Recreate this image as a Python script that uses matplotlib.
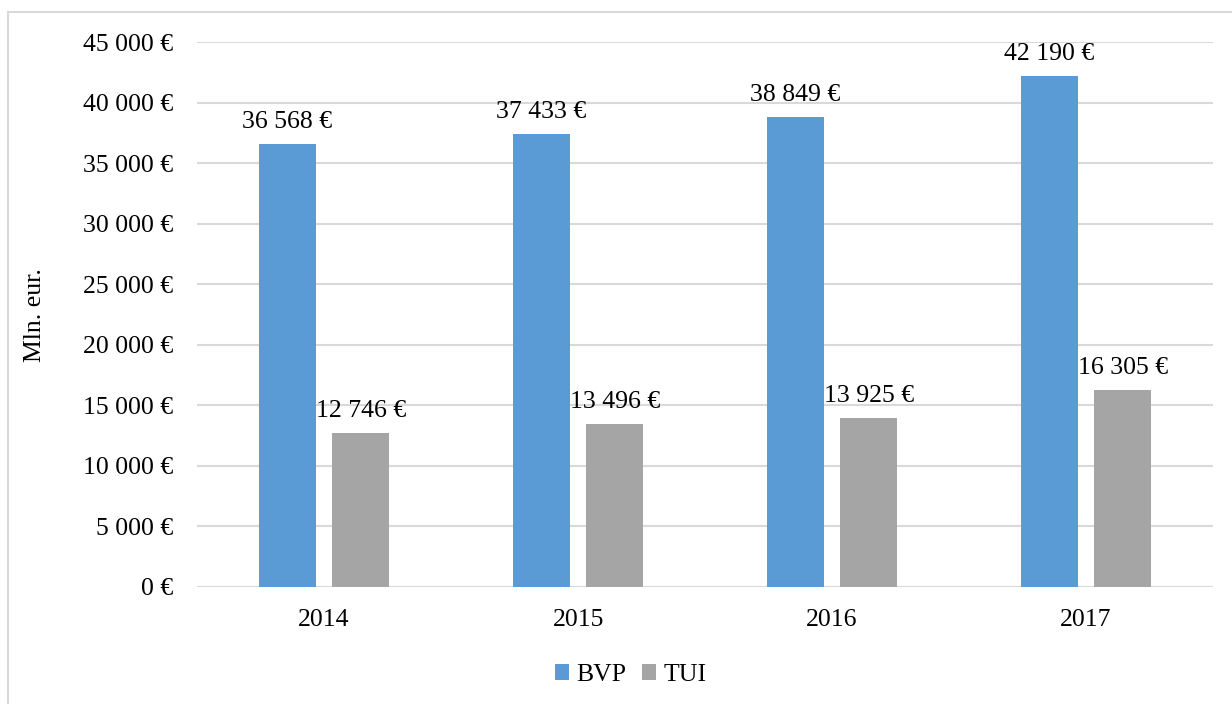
import matplotlib
matplotlib.use("Agg")
import matplotlib.pyplot as plt
import numpy as np
from matplotlib.patches import Rectangle
from matplotlib.ticker import FuncFormatter

years = ["2014", "2015", "2016", "2017"]
bvp = [36568, 37433, 38849, 42190]
tui = [12746, 13496, 13925, 16305]
series_names = ["BVP", "TUI"]
colors = ["#5B9BD5", "#A5A5A5"]

plt.rcParams['font.family'] = ['Liberation Serif', 'DejaVu Serif']
FS = 18.5

fig = plt.figure(figsize=(12.32, 7.04), dpi=100)
ax = fig.add_axes([0.160, 0.1662, 0.8246, 0.7741])

# figure border
fig.patches.append(Rectangle((8/1232, -0.05), 1.2, 1 - 12/704 + 0.05,
                             transform=fig.transFigure, fill=False,
                             edgecolor="#D9D9D9", linewidth=1.5))

def fmt(v):
    return f"{int(v):,}".replace(",", " ") + " €"

x = np.arange(len(years))
w = 0.224
off = 0.144
b1 = ax.bar(x - off, bvp, w, color=colors[0], label=series_names[0], zorder=3)
b2 = ax.bar(x + off, tui, w, color=colors[1], label=series_names[1], zorder=3)

for bars, vals in ((b1, bvp), (b2, tui)):
    for r, v in zip(bars, vals):
        ax.annotate(fmt(v), (r.get_x() + r.get_width()/2, v),
                    xytext=(0, 11.5), textcoords="offset points",
                    ha="center", va="baseline", fontsize=FS, color="#000000", zorder=4)

ax.set_xlim(-0.5, len(years) - 0.5)
ax.set_ylim(0, 45000)
ax.set_yticks(np.arange(0, 45001, 5000))
ax.yaxis.set_major_formatter(FuncFormatter(lambda v, p: fmt(v)))
ax.set_xticks(x)
ax.set_xticklabels(years)
ax.tick_params(axis="both", length=0, labelsize=FS, colors="#000000")
ax.tick_params(axis="y", pad=17)
ax.tick_params(axis="x", pad=16)
ax.grid(axis="y", color="#D9D9D9", linewidth=1.5, zorder=0)
for s in ax.spines.values():
    s.set_visible(False)

fig.text(35/1232, 1 - 315/704, "Mln. eur.", rotation=90, ha="center", va="center",
         fontsize=FS, color="#000000")

fig.legend(handles=[b1, b2], labels=series_names, loc="center",
           bbox_to_anchor=(631/1232, 1 - 675/704), ncol=2, frameon=False,
           fontsize=FS, handlelength=0.55, handleheight=0.55, handletextpad=0.3,
           columnspacing=0.6)

fig.savefig("out.png", dpi=100)
